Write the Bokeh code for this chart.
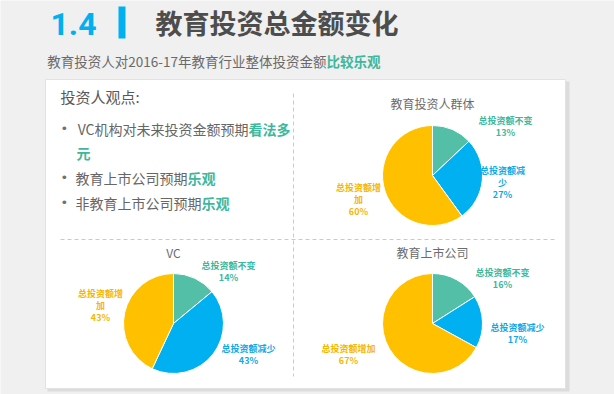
import math
from bokeh.plotting import figure
from bokeh.models import Range1d, ColumnDataSource
from bokeh.core.properties import value
from bokeh.embed import file_html
from bokeh.resources import INLINE

# ---------------- data ----------------
groups = ["教育投资人群体", "VC", "教育上市公司"]
categories = ["总投资额不变", "总投资额减少", "总投资额增加"]
unchanged = [13, 14, 16]
decrease = [27, 43, 17]
increase = [60, 43, 67]

title_num = "1.4"
title_text = "教育投资总金额变化"
subtitle_plain = "教育投资人对2016-17年教育行业整体投资金额"
subtitle_hi = "比较乐观"
points_head = "投资人观点:"
bullets = [("VC机构对未来投资金额预期", "看法多", "元"),
           ("教育上市公司预期", "乐观", ""),
           ("非教育上市公司预期", "乐观", "")]

# ---------------- style / layout ----------------
W, H = 614, 394
FONT = "Noto Sans CJK SC"
TEAL, BLUE, YELLOW = "#53BFA7", "#00B0F0", "#FFC000"
LAB_COLORS = ["#3FB79C", "#12A8E6", "#F5B700"]
SLICE_COLORS = [TEAL, BLUE, YELLOW]

def Y(y):
    return H - y

p = figure(width=W, height=H, output_backend="svg", toolbar_location=None,
           x_range=Range1d(0, W), y_range=Range1d(0, H), min_border=0,
           background_fill_color="#f0f0f0", border_fill_color="#f0f0f0",
           outline_line_color=None)
p.axis.visible = False
p.grid.visible = False

# panel with shadow
p.quad(left=[47], right=[569], top=[Y(81)], bottom=[Y(391)], fill_color="#dcdcdc", line_color=None)
p.quad(left=[45], right=[565], top=[Y(79)], bottom=[Y(388)], fill_color="white", line_color="#e2e2e2", line_width=1)

# dashed separators
p.segment(x0=[293], y0=[Y(93)], x1=[293], y1=[Y(376)], line_color="#a6d8dd", line_dash="4 3", line_width=1)
p.segment(x0=[60], y0=[Y(239)], x1=[556], y1=[Y(239)], line_color="#a6d8dd", line_dash="4 3", line_width=1)

# header
p.text(x=[50], y=[Y(23)], text=[title_num], text_font=value("Roboto"), text_font_style="bold",
       text_font_size="32px", text_color=BLUE, text_baseline="middle", text_align="left")
p.quad(left=[118], right=[125], top=[Y(6)], bottom=[Y(38)], fill_color=BLUE, line_color=None)
p.text(x=[155], y=[Y(22)], text=[title_text], text_font=value(FONT), text_font_style="bold",
       text_font_size="27px", text_color="#4d4d4d", text_baseline="middle", text_align="left")

# subtitle
p.text(x=[326], y=[Y(60)], text=[subtitle_plain], text_font=value(FONT), text_font_size="13.5px",
       text_color="#6a6a6a", text_baseline="middle", text_align="right")
p.text(x=[326], y=[Y(60)], text=[subtitle_hi], text_font=value(FONT), text_font_style="bold",
       text_font_size="13.5px", text_color="#3FB79C", text_baseline="middle", text_align="left")

# investor viewpoints
p.text(x=[60], y=[Y(96)], text=[points_head], text_font=value(FONT), text_font_size="15px",
       text_color="#595959", text_baseline="middle", text_align="left")
junctions = [248, 187, 201]
rows = [128, 177, 202]
for (plain, hi, cont), jx, ry in zip(bullets, junctions, rows):
    p.text(x=[60], y=[Y(ry)], text=["•"], text_font=value("DejaVu Sans"), text_font_size="13px",
           text_color="#707070", text_baseline="middle", text_align="left")
    p.text(x=[jx], y=[Y(ry)], text=[plain], text_font=value(FONT), text_font_size="14px",
           text_color="#666666", text_baseline="middle", text_align="right")
    p.text(x=[jx], y=[Y(ry)], text=[hi], text_font=value(FONT), text_font_style="bold",
           text_font_size="14px", text_color="#3FB79C", text_baseline="middle", text_align="left")
    if cont:
        p.text(x=[76], y=[Y(ry + 24)], text=[cont], text_font=value(FONT), text_font_style="bold",
               text_font_size="14px", text_color="#3FB79C", text_baseline="middle", text_align="left")

# pies
centers = [(432, 175), (173, 323), (432, 323)]
R = 50
title_y = [103, 252, 252]
# label anchor (x, first-line y) and wrap position per pie & category
label_pos = [
    [(505, 120, None), (502, 170, 5), (358, 187, 5)],
    [(228, 265, None), (248, 348, None), (100, 293, 5)],
    [(502, 272, None), (517, 327, None), (348, 348, None)],
]
for gi, g in enumerate(groups):
    cx, cy = centers[gi]
    vals = [unchanged[gi], decrease[gi], increase[gi]]
    tot = float(sum(vals))
    cum = 0.0
    starts, ends = [], []
    for v in vals:
        starts.append(math.pi / 2 - 2 * math.pi * cum / tot)
        cum += v
        ends.append(math.pi / 2 - 2 * math.pi * cum / tot)
    src = ColumnDataSource(dict(x=[cx] * 3, y=[Y(cy)] * 3, s=starts, e=ends, c=SLICE_COLORS))
    p.wedge(x="x", y="y", radius=R, start_angle="s", end_angle="e", direction="clock",
            fill_color="c", line_color="white", line_width=1, source=src)
    p.text(x=[cx], y=[Y(title_y[gi])], text=[g], text_font=value(FONT), text_font_size="12px",
           text_color="#6b6b6b", text_baseline="middle", text_align="center")
    for ci, cat in enumerate(categories):
        lx, ly, wrap = label_pos[gi][ci]
        lines = [cat] if wrap is None else [cat[:wrap], cat[wrap:]]
        lines.append("%d%%" % vals[ci])
        for li, t in enumerate(lines):
            p.text(x=[lx], y=[Y(ly + li * 12)], text=[t], text_font=value(FONT),
                   text_font_style="bold", text_font_size="9px", text_color=LAB_COLORS[ci],
                   text_baseline="middle", text_align="center")

open("out.html", "w").write(file_html(p, INLINE))
